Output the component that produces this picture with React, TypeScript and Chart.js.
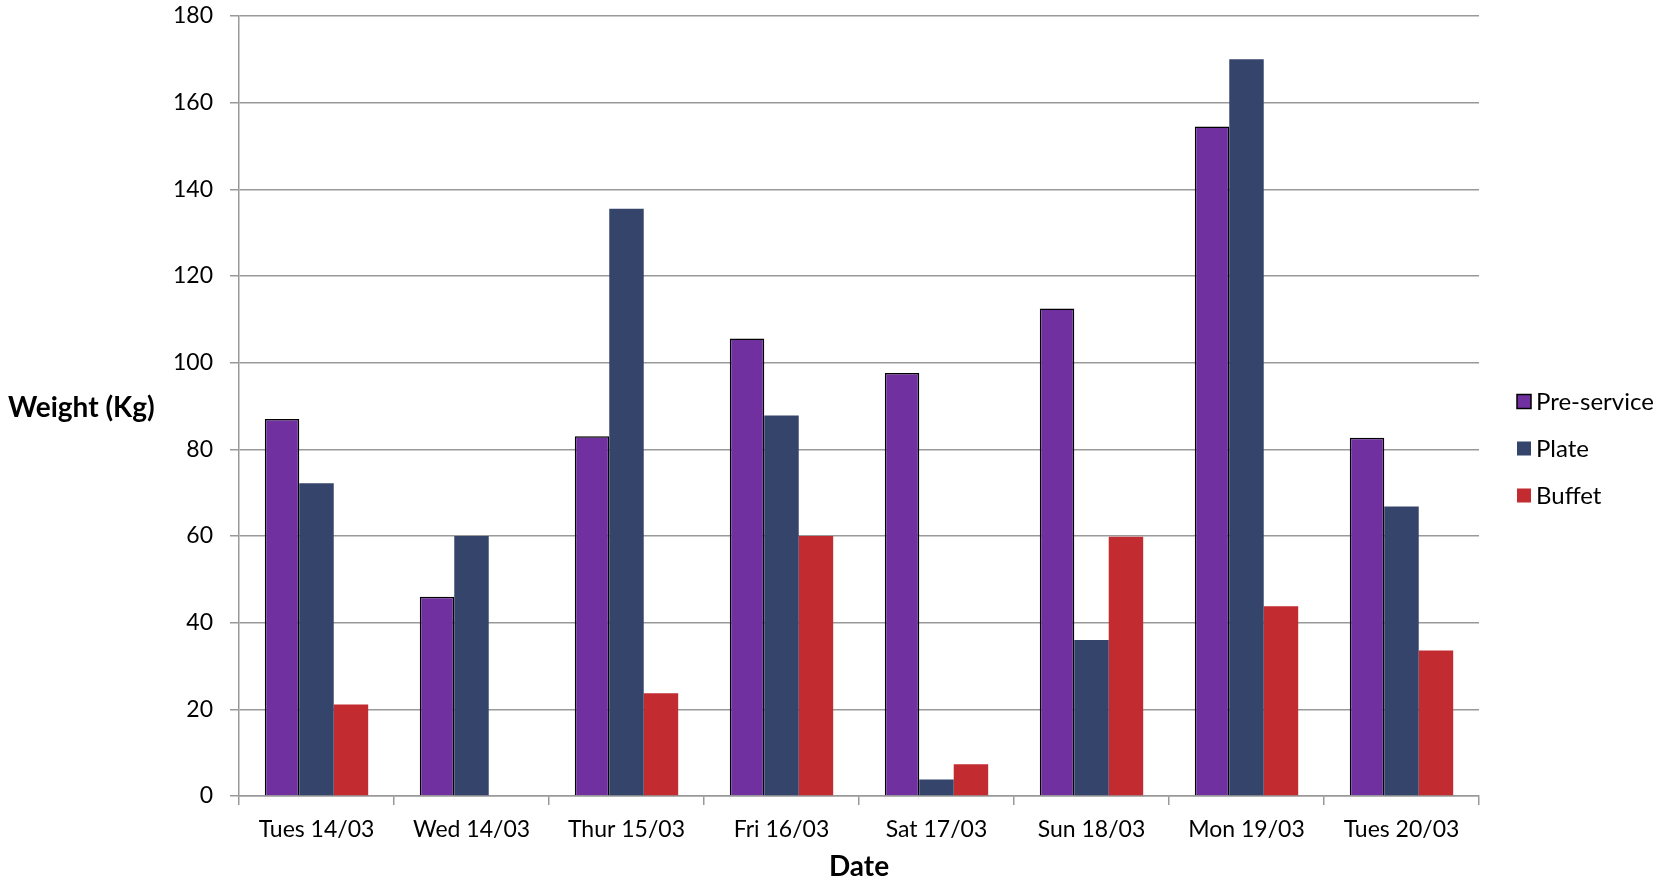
import React, { useEffect, useRef } from "react";
import { Chart, registerables } from "chart.js";

Chart.register(...registerables);

const categories = [
  "Tues 14/03",
  "Wed 14/03",
  "Thur 15/03",
  "Fri 16/03",
  "Sat 17/03",
  "Sun 18/03",
  "Mon 19/03",
  "Tues 20/03",
];
const preService = [87, 46, 83, 105.6, 97.6, 112.5, 154.5, 82.7];
const plate = [72.2, 60, 135.5, 87.8, 3.8, 36, 170, 66.8];
const buffet = [21.1, 0, 23.7, 60, 7.3, 59.8, 43.8, 33.6];
const seriesNames = ["Pre-service", "Plate", "Buffet"];
const seriesColors = ["#7030A0", "#35446B", "#C22B2F"];
const seriesBorders = ["#000000", "#35446B", "#C22B2F"];
const yTitle = "Weight (Kg)";
const xTitle = "Date";

const FONT = "Lato, 'Open Sans', sans-serif";
const W = 1659;
const H = 881;

const overlay = {
  id: "overlay",
  afterDraw(chart: any) {
    const ctx = chart.ctx;
    const area = chart.chartArea;
    ctx.save();
    // horizontal y-axis title
    ctx.font = `bold 28px ${FONT}`;
    ctx.fillStyle = "#000";
    ctx.textAlign = "left";
    ctx.textBaseline = "middle";
    ctx.fillText(yTitle, 8, (area.top + area.bottom) / 2 + 2);
    // legend
    const boxX = area.right + 38;
    const midY = H / 2 + 8;
    const step = 47;
    ctx.font = `24px ${FONT}`;
    chart.data.datasets.forEach((ds: any, i: number) => {
      const cy = midY + (i - 1) * step;
      ctx.fillStyle = ds.backgroundColor;
      ctx.fillRect(boxX, cy - 7, 14, 14);
      if (i === 0) {
        ctx.strokeStyle = "#000";
        ctx.lineWidth = 1.5;
        ctx.strokeRect(boxX, cy - 7, 14, 14);
      }
      ctx.fillStyle = "#000";
      ctx.fillText(ds.label, boxX + 19, cy + 1);
    });
    ctx.restore();
  },
};

export default function App() {
  const ref = useRef<HTMLCanvasElement | null>(null);
  useEffect(() => {
    document.body.style.margin = "0";
    const canvas = ref.current!;
    const data = [preService, plate, buffet];
    const chart = new Chart(canvas, {
      type: "bar",
      data: {
        labels: categories,
        datasets: seriesNames.map((name, i) => ({
          label: name,
          data: data[i],
          backgroundColor: seriesColors[i],
          borderColor: seriesBorders[i],
          borderWidth: i === 0 ? 1.5 : 0,
          categoryPercentage: 0.667,
          barPercentage: 1,
        })),
      },
      options: {
        responsive: false,
        animation: false,
        layout: { padding: { left: 0, right: W - 1479, top: 16, bottom: 0 } },
        plugins: {
          legend: { display: false },
          tooltip: { enabled: false },
        },
        scales: {
          x: {
            grid: {
              display: true,
              drawOnChartArea: false,
              drawTicks: true,
              tickLength: 9,
              color: "#999999",
              lineWidth: 1.5,
              offset: true,
            },
            border: { display: true, color: "#999999", width: 1.5 },
            ticks: {
              color: "#000",
              font: { family: FONT, size: 23 },
              padding: 11,
              maxRotation: 0,
              autoSkip: false,
            },
            title: {
              display: true,
              text: xTitle,
              color: "#000",
              font: { family: FONT, size: 28, weight: "bold", lineHeight: 1.0 },
              padding: { top: 4, bottom: 0 },
            },
            afterFit(scale: any) {
              scale.height = H - 796;
            },
          },
          y: {
            min: 0,
            max: 180,
            ticks: {
              stepSize: 20,
              color: "#000",
              font: { family: FONT, size: 23 },
              padding: 17,
            },
            grid: {
              color: "#999999",
              lineWidth: 1.5,
              drawTicks: true,
              tickLength: 9,
            },
            border: { display: true, color: "#999999", width: 1.5 },
            afterFit(scale: any) {
              scale.width = 239;
              scale.paddingTop = 14;
              scale.paddingBottom = 14;
            },
          },
        },
      },
      plugins: [overlay],
    });
    return () => chart.destroy();
  }, []);
  return (
    <div style={{ width: W, height: H }}>
      <canvas ref={ref} width={W} height={H} style={{ display: "block" }} />
    </div>
  );
}
